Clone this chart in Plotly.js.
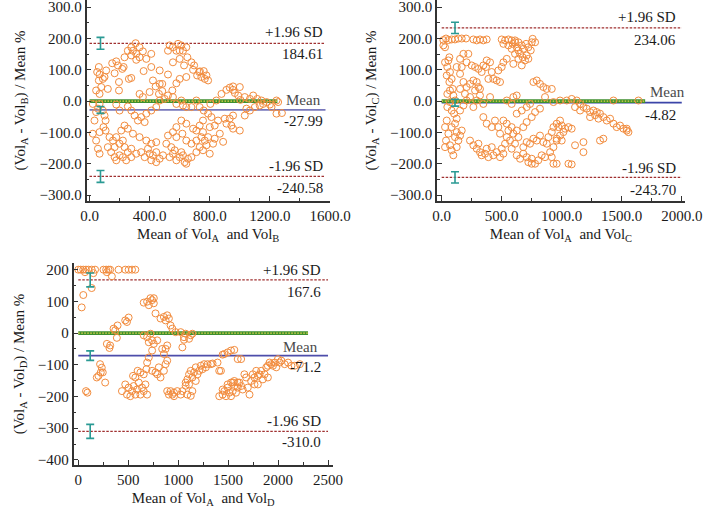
<!DOCTYPE html>
<html>
<head>
<meta charset="utf-8">
<script src="https://cdn.plot.ly/plotly-3.0.1.min.js"></script>
<style>html,body{margin:0;padding:0;background:#fff}#chart{width:709px;height:514px}</style>
</head>
<body>
<div id="chart"></div>
<script>
// ---------- DATA ----------
// Panel 1: Vol A vs Vol B  [mean of A and B, (A-B)/mean %]
const pointsAB = [
[307,185],[278,172],[333,172],[255,161],[289,161],[355,159],[311,151],[278,146],[233,140],[333,140],
[378,135],[311,132],[411,151],[178,127],[151,121],[189,114],[227,109],[218,103],[167,89],[62,109],
[51,93],[67,85],[89,71],[62,66],[78,45],[44,34],[67,23],[111,98],[100,77],[122,39],
[196,61],[196,34],[262,71],[278,74],[360,96],[422,66],[440,47],[467,55],[484,55],[462,23],
[484,32],[333,23],[355,13],[400,29],[522,161],[533,178],[555,172],[589,183],[611,178],[600,161],
[578,161],[622,161],[644,172],[555,124],[600,135],[629,114],[651,140],[678,124],[696,114],[689,100],
[729,93],[744,77],[760,96],[778,82],[789,66],[767,71],[716,82],[644,77],[600,71],[578,57],
[522,85],[467,98],[411,109],[735,95],
[67,-9],[89,-30],[100,-46],[107,-62],[93,-83],[107,-94],[178,-11],[200,-30],[255,-17],[278,-30],
[300,-46],[322,-62],[344,-51],[367,-67],[378,-40],[411,-30],[444,-19],[467,2],[500,7],[522,18],
[555,13],[551,34],[578,-9],[622,-14],[611,2],[644,-19],[678,-19],[711,2],[733,-19],[760,-30],
[789,-40],[804,-9],[844,2],[878,23],[911,36],[933,43],[955,36],[967,26],[989,18],[1004,4],
[1033,13],[1067,7],[1089,18],[1116,7],[1144,2],[1155,-9],[1178,-3],[1200,-11],[1211,-19],[1133,-14],
[1100,-19],[1067,-30],[1044,-24],[1244,-40],[1033,-46],[955,-46],[933,-56],[911,-72],[944,-78],[900,-56],
[955,-88],[1000,-94],[855,-62],[811,-51],[833,-78],[800,-83],[755,-62],[733,-78],[711,-94],[755,-99],
[689,-88],[644,-72],[611,-62],[578,-83],[555,-99],[522,-110],[578,-115],[618,-104],[644,-126],[678,-136],
[711,-126],[744,-115],[767,-126],[778,-141],[789,-115],[822,-136],[833,-120],[867,-104],[889,-130],[800,-168],
[733,-147],[755,-157],[711,-163],
[278,-179],[311,-168],[344,-163],[367,-179],[389,-152],[400,-168],[422,-173],[444,-163],[411,-189],[444,-195],
[467,-184],[489,-173],[533,-179],[555,-168],[578,-189],[600,-179],[622,-173],[633,-195],[655,-184],[678,-179],
[644,-200],[611,-163],[567,-157],[544,-147],[511,-136],[444,-131],[411,-136],[378,-126],[333,-115],[289,-104],
[255,-88],[233,-78],[211,-94],[178,-115],[156,-126],[133,-115],[122,-147],[144,-163],[167,-179],[178,-189],
[200,-173],[222,-179],[244,-189],[255,-163],[278,-152],[233,-147],[200,-136],[222,-126],[167,-147],[67,-99],
[44,-126],[56,-152],[67,-168],[22,-104],[33,-62],[44,-35],[56,-24],[22,-9],[955,47],[1000,45],
[1244,2],[1255,-3],[1280,-38]
];
// Panel 2: Vol A vs Vol C
const pointsAC = [
[14,195],[36,200],[56,195],[83,197],[111,197],[139,200],[167,200],[203,200],[14,178],[28,172],
[264,197],[292,194],[319,197],[347,194],[375,197],[500,197],[528,194],[556,197],[583,194],[611,194],
[514,183],[556,178],[592,183],[625,172],[639,162],[653,151],[675,140],[694,130],[708,146],[722,135],
[681,167],[703,183],[722,172],[742,162],[750,188],[758,199],[778,188],[583,167],[611,151],[639,135],
[667,114],[597,119],[542,135],[514,124],[500,109],[472,98],[611,188],[639,188],[667,178],
[28,124],[56,130],[64,140],[47,109],[69,93],[42,82],[83,71],[64,61],[69,34],[92,39],
[47,23],[97,18],[111,2],[69,-3],[47,-19],[83,-30],[103,-40],[125,-56],[111,-72],[83,-83],
[42,-62],[28,-83],[56,-104],[36,-126],[69,-141],[83,-157],[97,-173],[125,-147],[139,-126],[153,-110],
[167,-94],[125,-99],[111,-115],[28,-147],[153,-30],[181,-14],[208,2],[194,23],[208,45],[236,55],
[264,66],[292,61],[153,39],[181,61],[153,87],[125,109],[167,109],[208,124],[222,151],[153,135],
[181,151],
[250,114],[278,109],[306,103],[333,93],[347,114],[375,130],[403,124],[369,109],[417,93],[389,71],
[430,71],[458,66],[486,61],[306,45],[278,34],[319,18],[292,2],[347,-9],[264,-19],[236,13],
[319,39],[403,13],[542,2],[583,-9],[597,13],[625,18],
[236,-126],[264,-141],[292,-152],[319,-163],[333,-173],[361,-168],[389,-179],[430,-173],[458,-163],[500,-152],
[528,-136],[514,-168],[486,-179],[417,-147],[375,-152],[306,-136],[347,-51],[375,-72],[417,-83],[444,-62],
[472,-83],[486,-104],[514,-62],[542,-72],[556,-94],[583,-83],[597,-104],[625,-94],[639,-115],[569,-126],
[611,-136],[542,-115],[583,-152],[625,-173],[653,-184],[680,-168],[708,-179],[722,-195],[750,-184],[778,-200],
[750,-200],[805,-189],[833,-173],[861,-179],[680,-147],[708,-131],[736,-136],[764,-120],[792,-126],[819,-110],
[847,-131],[875,-136],[889,-115],[917,-99],[931,-83],[958,-72],[986,-62],[972,-83],[1000,-78],[1028,-88],
[1056,-83],[1083,-88],[1014,-99],[986,-110],[958,-126],[931,-147],[903,-163],[931,-200],[958,-200],[1056,-200],
[1083,-202],[958,-120],[1000,-126],[917,-179],[1111,-141],[1181,-163],[680,-83],[708,-67],[750,-51],[778,-35],
[819,-24],[667,-30],[625,-40],[708,-19],[736,-9],[764,61],[792,66],[819,55],[847,45],[875,39],
[917,39],[861,13],[931,-3],[986,2],[1042,2],[1083,7],[1125,2],[1153,-9],[1181,-19],[1208,-24],
[1236,-35],[1264,-30],[1292,-35],[1319,-40],[1347,-51],[1375,-62],[1403,-56],[1431,-72],[1458,-83],[1486,-78],
[1514,-88],[1542,-94],[1153,-30],[1111,-19],[1236,-51],[1278,-45],[1306,-56],[1319,-126],[1347,-120],[1181,-131],
[1431,2],[1542,-88],[1556,-99],[1639,2]
];
// Panel 3: Vol A vs Vol D
const pointsAD = [
[0,200],[24,200],[50,200],[77,200],[101,200],[134,200],[168,200],[252,200],[279,200],[302,200],
[319,200],[403,200],[470,200],[504,200],[538,200],[571,200],[67,192],[151,189],[286,192],[336,179],
[134,142],[50,120],[34,81],
[353,14],[370,9],[386,-15],[319,-39],[312,-47],[286,-34],[393,24],[487,35],[504,49],[470,40],
[218,-98],[235,-109],[225,-124],[202,-135],[245,-124],[185,-140],[269,-156],[77,-183],[91,-188],
[437,-183],[470,-162],[487,-194],[504,-172],[521,-199],[538,-183],[554,-167],[571,-194],[588,-178],[605,-156],
[622,-194],[638,-172],[655,-183],[672,-162],[689,-194],[548,-135],[571,-140],[594,-119],[622,-124],[655,-130],
[682,-114],
[689,-93],[706,-77],[739,-55],[756,-34],[706,-29],[722,-2],[655,-7],[689,-13],[739,-23],[790,-23],
[655,96],[689,99],[722,110],[739,104],[756,110],[706,88],[756,94],[773,62],
[739,-119],[773,-124],[790,-130],[806,-108],[823,-140],[857,-119],[874,-98],[890,-87],[857,-66],[840,-50],
[874,-50],[890,-39],
[823,46],[857,51],[890,56],[874,40],[907,46],[924,24],[941,14],[974,3],[1025,3],[1058,-13],
[1075,-2],[1109,-18],[1126,-7],[1142,-2],[1042,-45],[1058,-21],
[890,-183],[907,-194],[924,-183],[941,-194],[958,-188],[991,-183],[1025,-194],[1042,-183],[1075,-166],[958,-199],
[1075,-156],[1092,-146],[1109,-130],[1126,-119],[1142,-140],[1159,-124],[1176,-108],[1193,-130],[1210,-119],[1226,-103],
[1243,-114],[1260,-98],[1277,-108],[1294,-98],[1109,-162],[1142,-183],[1176,-151],[1092,-194],[1126,-198],
[1327,-98],[1344,-96],[1394,-93],[1411,-119],[1428,-119],
[1462,-66],[1495,-61],[1529,-55],[1562,-53],[1445,-68],[1596,-82],[1630,-82],
[1411,-199],[1445,-194],[1462,-183],[1479,-199],[1495,-172],[1512,-188],[1529,-199],[1546,-183],[1562,-167],[1579,-188],
[1596,-172],[1613,-156],[1529,-156],[1562,-151],[1596,-156],[1630,-167],[1646,-178],[1445,-178],[1495,-162],[1546,-156],
[1663,-130],[1680,-140],[1697,-172],[1714,-194],[1730,-151],[1747,-130],[1764,-140],[1781,-119],[1798,-135],[1814,-130],
[1831,-119],[1848,-146],[1865,-130],[1882,-108],[1898,-140],[1798,-162],[1764,-162],
[1932,-98],[1966,-93],[1982,-108],[1999,-82],[2016,-93],[2033,-87],[2066,-98],[2100,-93],[2134,-103],[2167,-103],
[2218,-98],[1949,-103],[1898,-103],[1915,-93]
];

// Limits of agreement: [upper, mean, lower]
const limitsAB = [184.61, -27.99, -240.58];
const limitsAC = [234.06, -4.82, -243.70];
const limitsAD = [167.6, -71.2, -310.0];
const limitLabelsAB = ["184.61", "-27.99", "-240.58"];
const limitLabelsAC = ["234.06", "-4.82", "-243.70"];
const limitLabelsAD = ["167.6", "-71.2", "-310.0"];
// Confidence-interval half widths for [upper, mean, lower]
const ciAB = [19, 11, 19];
const ciAC = [18, 11, 18];
const ciAD = [22, 15, 22];
const ciX = [73, 111, 119];

const xTitles = ["Mean of Vol<sub>A</sub>  and Vol<sub>B</sub>", "Mean of Vol<sub>A</sub>  and Vol<sub>C</sub>", "Mean of Vol<sub>A</sub>  and Vol<sub>D</sub>"];
const yTitles = ["(Vol<sub>A</sub> - Vol<sub>B</sub>) / Mean %", "(Vol<sub>A</sub> - Vol<sub>C</sub>) / Mean %", "(Vol<sub>A</sub> - Vol<sub>D</sub>) / Mean %"];

// ---------- STYLE / LAYOUT ----------
const W = 709, H = 514;
const FONT = 'Liberation Serif';
const TXT = '#1a1a1a';
const ORANGE = '#F28C3E', GREEN = '#3f8f2f', YEL = '#e9d94c', RED = '#a03030', TEAL = '#2a9a94';
const meanColors = ['#7777bb', '#3b45a8', '#4d4daa'];

const panels = [
  {pts: pointsAB, lim: limitsAB, lab: limitLabelsAB, ci: ciAB, cx: ciX[0], zeroEnd: 1250, lineEnd: 1570,
   xd: [86.5, 330], yd: [0, 201], xr: [-20, 1600], yr: [-319, 323], xdt: 400, xfmt: '.1f', ydt: 100, yfmt: '.1f',
   annRight: 325, annMeanRight: 323, annY: [32, 54, 100, 121, 166, 188]},
  {pts: pointsAC, lim: limitsAC, lab: limitLabelsAC, ci: ciAC, cx: ciX[1], zeroEnd: 1695, lineEnd: 2000,
   xd: [437, 685], yd: [0, 201], xr: [-39, 2027], yr: [-319, 323], xdt: 500, xfmt: '.1f', ydt: 100, yfmt: '.1f',
   annRight: 678, annMeanRight: 687, annY: [17, 40, 92, 115, 168, 190]},
  {pts: pointsAD, lim: limitsAD, lab: limitLabelsAD, ci: ciAD, cx: ciX[2], zeroEnd: 2300, lineEnd: 2500,
   xd: [73.5, 333], yd: [263, 465], xr: [-48, 2550], yr: [-416, 221], xdt: 500, xfmt: 'd', ydt: 100, yfmt: 'd',
   annRight: 323, annMeanRight: 320, annY: [270, 292, 347, 367, 421, 442]}
];

const traces = [];
const layout = {
  width: W, height: H, margin: {l: 0, r: 0, t: 0, b: 0},
  paper_bgcolor: '#fff', plot_bgcolor: 'rgba(0,0,0,0)', showlegend: false,
  font: {family: FONT, size: 15, color: TXT}, annotations: []
};

panels.forEach((p, i) => {
  const n = i === 0 ? '' : String(i + 1);
  const xa = 'x' + n, ya = 'y' + n;
  layout['xaxis' + n] = {
    domain: [p.xd[0] / W, p.xd[1] / W], range: p.xr, anchor: ya,
    tickmode: 'linear', tick0: 0, dtick: p.xdt, tickformat: p.xfmt,
    ticks: 'inside', ticklen: 5, tickwidth: 1.2, tickcolor: '#333',
    minor: {dtick: p.xdt / 2, tick0: 0, ticks: 'inside', ticklen: 3, tickcolor: '#333'},
    showline: true, linecolor: '#333', linewidth: 1.5, showgrid: false, zeroline: false,
    ticklabeloverflow: 'allow',
    tickfont: {family: FONT, size: 15, color: TXT},
    title: {text: xTitles[i], font: {family: FONT, size: 15, color: TXT}, standoff: 6},
    automargin: false, fixedrange: true
  };
  layout['yaxis' + n] = {
    domain: [1 - p.yd[1] / H, 1 - p.yd[0] / H], range: p.yr, anchor: xa,
    tickmode: 'linear', tick0: 0, dtick: p.ydt, tickformat: p.yfmt,
    ticks: 'inside', ticklen: 5, tickwidth: 1.2, tickcolor: '#333',
    minor: {dtick: p.ydt / 2, tick0: 0, ticks: 'inside', ticklen: 3, tickcolor: '#333'},
    showline: true, linecolor: '#333', linewidth: 1.5, showgrid: false, zeroline: false,
    ticklabeloverflow: 'allow',
    tickfont: {family: FONT, size: 15, color: TXT},
    title: {text: yTitles[i], font: {family: FONT, size: 15, color: TXT}, standoff: 10},
    automargin: false, fixedrange: true
  };

  // upper / lower limits (fine dashes)
  [0, 2].forEach(k => traces.push({
    type: 'scatter', mode: 'lines', xaxis: xa, yaxis: ya, hoverinfo: 'skip',
    x: [0, p.lineEnd], y: [p.lim[k], p.lim[k]],
    line: {color: RED, width: 1.2, dash: '2.5px,1.5px'}
  }));
  // mean line
  traces.push({
    type: 'scatter', mode: 'lines', xaxis: xa, yaxis: ya, hoverinfo: 'skip',
    x: [0, p.lineEnd], y: [p.lim[1], p.lim[1]],
    line: {color: meanColors[i], width: 1.8}
  });
  // zero line (green band with yellow dots)
  traces.push({
    type: 'scatter', mode: 'lines', xaxis: xa, yaxis: ya, hoverinfo: 'skip',
    x: [0, p.zeroEnd], y: [0, 0], line: {color: GREEN, width: 3.6}
  });
  traces.push({
    type: 'scatter', mode: 'lines', xaxis: xa, yaxis: ya, hoverinfo: 'skip',
    x: [0, p.zeroEnd], y: [0, 0], line: {color: YEL, width: 1.4, dash: '1.5px,1.5px'}
  });
  // scatter points
  traces.push({
    type: 'scatter', mode: 'markers', xaxis: xa, yaxis: ya,
    x: p.pts.map(d => d[0]), y: p.pts.map(d => d[1]),
    marker: {symbol: 'circle-open', size: 7, color: ORANGE, line: {width: 1, color: ORANGE}}
  });
  // CI error bars
  traces.push({
    type: 'scatter', mode: 'markers', xaxis: xa, yaxis: ya, hoverinfo: 'skip',
    x: [p.cx, p.cx, p.cx], y: p.lim,
    marker: {size: 1, color: 'rgba(0,0,0,0)'},
    error_y: {type: 'data', array: p.ci, visible: true, color: TEAL, thickness: 1.6, width: 4}
  });

  // annotations
  const texts = ['+1.96 SD', p.lab[0], 'Mean', p.lab[1], '-1.96 SD', p.lab[2]];
  texts.forEach((t, k) => layout.annotations.push({
    xref: 'paper', yref: 'paper', x: (k === 2 ? p.annMeanRight : p.annRight) / W, y: 1 - p.annY[k] / H,
    xanchor: 'right', yanchor: 'middle', showarrow: false, text: t,
    font: {family: FONT, size: 15, color: k === 2 ? '#4a4a4a' : TXT}
  }));
});

Plotly.newPlot('chart', traces, layout, {displayModeBar: false});
</script>
</body>
</html>
